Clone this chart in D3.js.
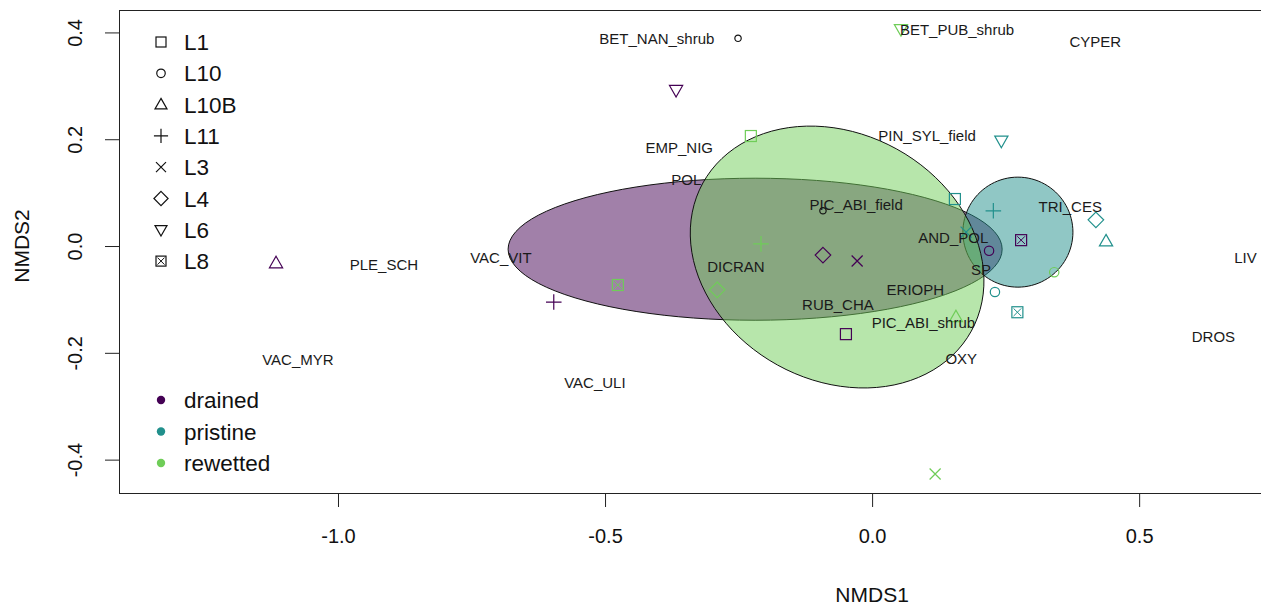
<!DOCTYPE html>
<html>
<head>
<meta charset="utf-8">
<script src="https://cdn.jsdelivr.net/npm/d3@7"></script>
<style>
  body { margin: 0; background: #fff; }
  svg { display: block; font-family: "Liberation Sans", Arial, sans-serif; }
</style>
</head>
<body>
<div id="ordi"></div>
<script>
var width = 1261, height = 608;

// site scores (NMDS1, NMDS2)
var groups = ["drained", "pristine", "rewetted"];
var groupColors = ["#440154", "#21908C", "#6FCD58"];
var sites = ["L1", "L10", "L10B", "L11", "L3", "L4", "L6", "L8"];
var sitePch = [0, 1, 2, 3, 4, 5, 6, 7];

var drainedX  = [-0.049, 0.219, -1.116, -0.596, -0.028, -0.092, -0.367, 0.279];
var drainedY  = [-0.165, -0.009, -0.032, -0.105, -0.028, -0.017, 0.292, 0.011];
var pristineX = [0.155, 0.230, 0.438, 0.227, 0.176, 0.419, 0.242, 0.272];
var pristineY = [0.088, -0.086, 0.009, 0.066, 0.026, 0.049, 0.197, -0.124];
var rewettedX = [-0.227, 0.341, 0.157, -0.208, 0.118, -0.290, 0.054, -0.476];
var rewettedY = [0.206, -0.049, -0.133, 0.004, -0.427, -0.082, 0.406, -0.073];

// species scores
var species = ["BET_NAN_shrub", "BET_PUB_shrub", "CYPER", "EMP_NIG", "PIN_SYL_field", "POL",
  "PIC_ABI_field", "TRI_CES", "AND_POL", "VAC_VIT", "PLE_SCH", "DICRAN", "LIV", "SP",
  "ERIOPH", "RUB_CHA", "PIC_ABI_shrub", "DROS", "VAC_MYR", "OXY", "VAC_ULI"];
var speciesX = [-0.403, 0.159, 0.418, -0.361, 0.103, -0.348, -0.030, 0.371, 0.152, -0.695,
  -0.914, -0.255, 0.699, 0.204, 0.081, -0.064, 0.096, 0.639, -1.075, 0.167, -0.519];
var speciesY = [0.388, 0.406, 0.382, 0.185, 0.206, 0.124, 0.077, 0.073, 0.015, -0.021,
  -0.034, -0.039, -0.022, -0.045, -0.082, -0.109, -0.144, -0.170, -0.213, -0.210, -0.255];
// species without room for a label (drawn as points)
var hiddenX = [-0.251, -0.092];
var hiddenY = [0.389, 0.066];

// group ellipses: centre, semi axes, angle (degrees)
var ellCX = [-0.219, 0.273, -0.0655];
var ellCY = [-0.006, 0.026, -0.0206];
var ellA = [0.4625, 0.103, 0.287];
var ellB = [0.133, 0.103, 0.231];
var ellAngle = [0, 0, -28.9];

var xTicks = [-1.0, -0.5, 0.0, 0.5];
var yTicks = [-0.4, -0.2, 0.0, 0.2, 0.4];

var boxL = 119, boxR = 1262, boxT = 10, boxB = 493;

var x = d3.scaleLinear().domain([-1.410, 0.730]).range([boxL, boxR]);
var y = d3.scaleLinear().domain([0.442, -0.4625]).range([boxT, boxB]);

var svg = d3.select("#ordi").append("svg")
    .attr("width", width)
    .attr("height", height);

svg.append("defs").append("clipPath").attr("id", "plotclip")
  .append("rect")
    .attr("x", boxL).attr("y", boxT)
    .attr("width", boxR - boxL).attr("height", boxB - boxT);

var plot = svg.append("g").attr("clip-path", "url(#plotclip)");

// ellipses
var line = d3.line().x(function (d) { return x(d[0]); }).y(function (d) { return y(d[1]); });
groups.forEach(function (g, i) {
    var pts = [], th = ellAngle[i] * Math.PI / 180;
    for (var k = 0; k <= 100; k++) {
        var t = 2 * Math.PI * k / 100;
        var u = ellA[i] * Math.cos(t), v = ellB[i] * Math.sin(t);
        pts.push([ellCX[i] + u * Math.cos(th) - v * Math.sin(th),
                  ellCY[i] + u * Math.sin(th) + v * Math.cos(th)]);
    }
    plot.append("path")
        .attr("d", line(pts) + "Z")
        .attr("fill", groupColors[i])
        .attr("fill-opacity", 0.5)
        .attr("stroke", "#111")
        .attr("stroke-width", 1);
});

// R style plotting symbols
function pch(sel, type, cx, cy, col, s) {
    var g = sel.append("g").attr("transform", "translate(" + cx + "," + cy + ")")
        .attr("fill", "none").attr("stroke", col).attr("stroke-width", 1.2);
    var h = s / 2, d = h * Math.SQRT2;
    if (type == 0 || type == 7) {
        g.append("rect").attr("x", -h).attr("y", -h).attr("width", s).attr("height", s);
    }
    if (type == 7) {
        var q = h * 0.7;
        g.append("path").attr("d", "M" + -q + "," + -q + "L" + q + "," + q + "M" + -q + "," + q + "L" + q + "," + -q)
          .attr("stroke-width", 1);
    }
    if (type == 1) g.append("circle").attr("r", h * 0.85);
    if (type == 2) g.append("path").attr("d", "M0," + (-h * 1.25) + "L" + (h * 1.2) + "," + (h * 0.85) + "L" + (-h * 1.2) + "," + (h * 0.85) + "Z");
    if (type == 6) g.append("path").attr("d", "M0," + (h * 1.25) + "L" + (h * 1.2) + "," + (-h * 0.85) + "L" + (-h * 1.2) + "," + (-h * 0.85) + "Z");
    if (type == 3) g.append("path").attr("d", "M" + -d + ",0L" + d + ",0M0," + -d + "L0," + d);
    if (type == 4) g.append("path").attr("d", "M" + -h + "," + -h + "L" + h + "," + h + "M" + -h + "," + h + "L" + h + "," + -h);
    if (type == 5) g.append("path").attr("d", "M0," + -d + "L" + d + ",0L0," + d + "L" + -d + ",0Z");
}

// site points
var siteX = [drainedX, pristineX, rewettedX];
var siteY = [drainedY, pristineY, rewettedY];
groups.forEach(function (g, i) {
    sites.forEach(function (s, j) {
        pch(plot, sitePch[j], x(siteX[i][j]), y(siteY[i][j]), groupColors[i], 11);
    });
});

// species
hiddenX.forEach(function (v, i) {
    pch(plot, 1, x(v), y(hiddenY[i]), "#111", 7.5);
});
plot.selectAll(".sp")
    .data(species)
    .enter().append("text")
    .attr("class", "sp")
    .attr("x", function (d, i) { return x(speciesX[i]); })
    .attr("y", function (d, i) { return y(speciesY[i]); })
    .attr("dy", "0.36em")
    .attr("text-anchor", "middle")
    .attr("font-size", "15px")
    .attr("fill", "#1a1a1a")
    .text(function (d) { return d; });

// axes
var xAxis = svg.append("g")
    .attr("transform", "translate(0," + boxB + ")")
    .call(d3.axisBottom(x).tickValues(xTicks).tickSize(14).tickPadding(22)
        .tickFormat(function (d) { return d.toFixed(1); }));
var yAxis = svg.append("g")
    .attr("transform", "translate(" + boxL + ",0)")
    .call(d3.axisLeft(y).tickValues(yTicks).tickSize(14)
        .tickFormat(function (d) { return d.toFixed(1); }));
[xAxis, yAxis].forEach(function (a) {
    a.select(".domain").remove();
    a.selectAll("line").attr("stroke", "#222");
    a.selectAll("text").attr("font-size", "20px").attr("fill", "#111")
        .attr("font-family", "'Liberation Sans', Arial, sans-serif");
});
yAxis.selectAll("text")
    .attr("transform", "rotate(-90)")
    .attr("x", 0).attr("y", -44).attr("dy", "0.35em")
    .attr("text-anchor", "middle");

svg.append("rect")
    .attr("x", boxL + 0.5).attr("y", boxT + 0.5)
    .attr("width", boxR - boxL).attr("height", boxB - boxT)
    .attr("fill", "none").attr("stroke", "#222").attr("stroke-width", 1);

svg.append("text")
    .attr("x", x(0)).attr("y", 595).attr("dy", "0.35em")
    .attr("text-anchor", "middle").attr("font-size", "21px").attr("fill", "#111")
    .text("NMDS1");
svg.append("text")
    .attr("transform", "translate(22," + y(0) + ") rotate(-90)")
    .attr("dy", "0.35em")
    .attr("text-anchor", "middle").attr("font-size", "21px").attr("fill", "#111")
    .text("NMDS2");

// legends
var leg = svg.append("g");
sites.forEach(function (s, j) {
    var ly = 42 + j * 31.3;
    pch(leg, sitePch[j], 161, ly, "#111", 10);
    leg.append("text").attr("x", 184).attr("y", ly).attr("dy", "0.36em")
        .attr("font-size", "22.5px").attr("fill", "#111").text(s);
});
groups.forEach(function (g, i) {
    var ly = 400 + i * 31.5;
    leg.append("circle").attr("cx", 161).attr("cy", ly).attr("r", 4.2).attr("fill", groupColors[i]);
    leg.append("text").attr("x", 184).attr("y", ly).attr("dy", "0.36em")
        .attr("font-size", "22.5px").attr("fill", "#111").text(g);
});
</script>
</body>
</html>
